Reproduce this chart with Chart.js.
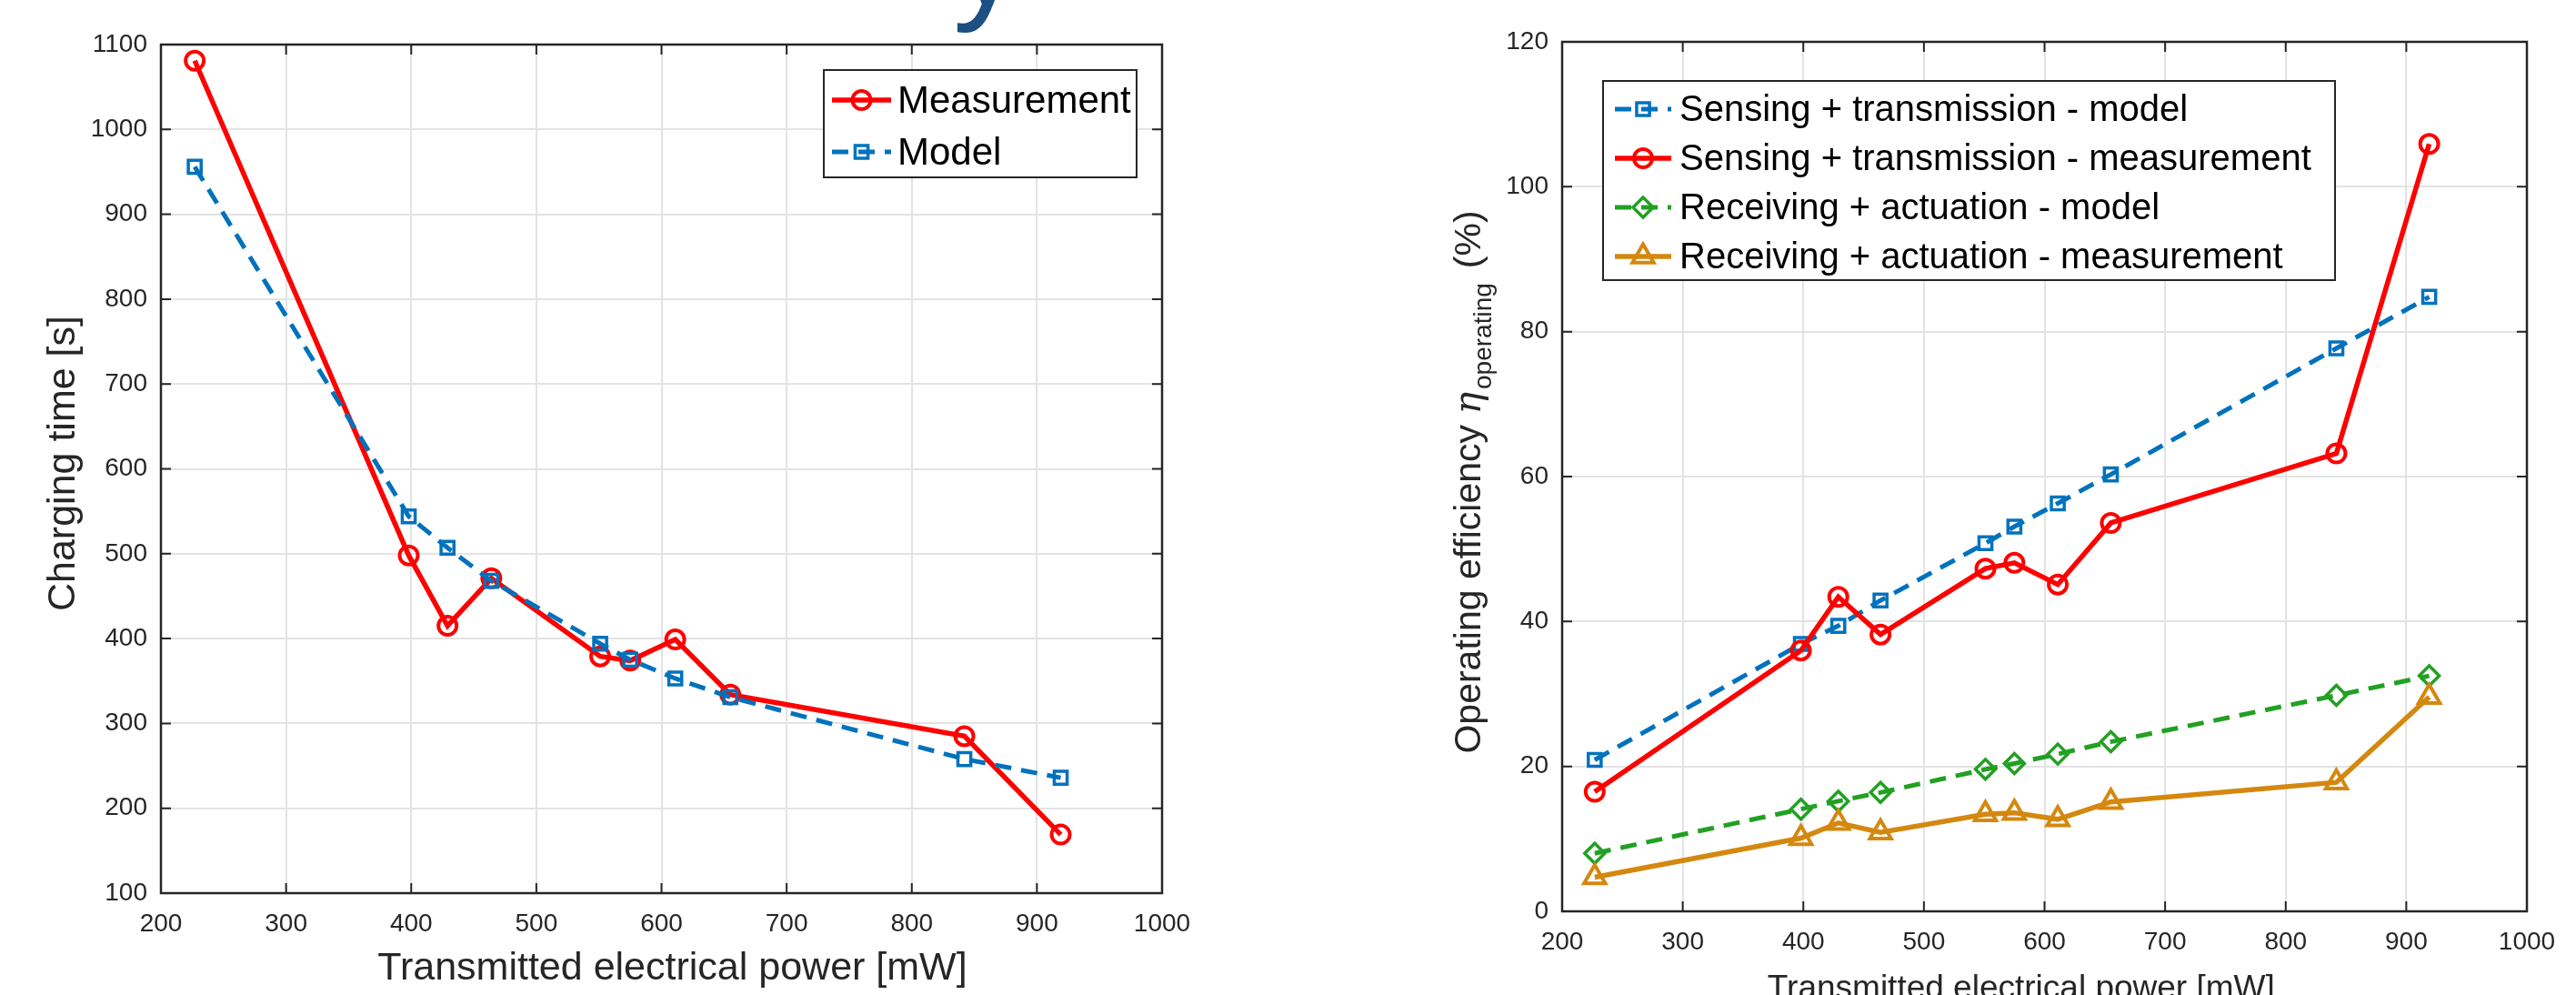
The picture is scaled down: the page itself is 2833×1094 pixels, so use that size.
<!DOCTYPE html>
<html>
<head>
<meta charset="utf-8">
<script src="https://cdn.jsdelivr.net/npm/chart.js@4.4.1/dist/chart.umd.min.js"></script>
<style>
  html, body { margin: 0; padding: 0; background: #fff; overflow: hidden; width: 2833px; height: 1094px; }
  #left { position: absolute; left: 0; top: 0; }
  #right { position: absolute; left: 1400px; top: 0; }
  #cut { position: absolute; left: 1048px; top: -122px; font: 150px "Liberation Sans"; line-height: 150px; color: #1c4f82; }
</style>
</head>
<body>
<div id="cut">y</div>
<canvas id="left" width="1400" height="1094"></canvas>
<canvas id="right" width="1433" height="1130"></canvas>
<script>
// transmitted electrical power, same points in both plots (mW)
const powerMW = [227, 398, 429, 464, 551, 575, 611, 655, 842, 919];

// left plot - charging time (s)
const chargeMeasured = [1081, 498, 415, 471, 379, 374, 399, 334, 285, 169];
const chargeModel    = [956, 544, 507, 468, 394, 375, 353, 331, 258, 236];

// right plot - operating efficiency (%)
const senseModel    = [20.9, 36.9, 39.4, 42.9, 50.8, 53.1, 56.3, 60.3, 77.7, 84.8];
const senseMeasured = [16.5, 36.0, 43.4, 38.2, 47.3, 48.1, 45.1, 53.6, 63.2, 105.9];
const recvModel     = [8.0, 14.1, 15.2, 16.4, 19.6, 20.4, 21.7, 23.4, 29.8, 32.5];
const recvMeasured  = [4.7, 10.1, 12.2, 10.9, 13.4, 13.6, 12.7, 15.1, 17.8, 29.6];

const FONT = '"Liberation Sans", Arial, sans-serif';
const AX = '#262626';
const NB = '\u00A0';
Chart.defaults.font.family = FONT;
Chart.defaults.color = AX;

const pts = ys => ys.map((y, i) => ({ x: powerMW[i], y: y }));

function marker(ctx, style, x, y, r, bw, color) {
  ctx.save();
  ctx.strokeStyle = color;
  ctx.lineWidth = bw;
  ctx.setLineDash([]);
  ctx.beginPath();
  if (style === 'circle') {
    ctx.arc(x, y, r, 0, 2 * Math.PI);
  } else if (style === 'rect') {
    const s = r * Math.SQRT1_2;
    ctx.rect(x - s, y - s, 2 * s, 2 * s);
  } else if (style === 'rectRot') {
    ctx.moveTo(x, y - r); ctx.lineTo(x + r, y); ctx.lineTo(x, y + r); ctx.lineTo(x - r, y); ctx.closePath();
  } else if (style === 'triangle') {
    let a = 0;
    ctx.moveTo(x + Math.sin(a) * r, y - Math.cos(a) * r);
    a += 2 * Math.PI / 3; ctx.lineTo(x + Math.sin(a) * r, y - Math.cos(a) * r);
    a += 2 * Math.PI / 3; ctx.lineTo(x + Math.sin(a) * r, y - Math.cos(a) * r);
    ctx.closePath();
  }
  ctx.stroke();
  ctx.restore();
}

// frame round the plot + inward ticks on all four sides (matlab look)
const matlabBox = {
  id: 'matlabBox',
  afterDatasetsDraw(chart) {
    const { ctx, chartArea: a, scales: { x, y } } = chart;
    const tl = 11;
    ctx.save();
    ctx.strokeStyle = AX;
    ctx.lineWidth = 2;
    ctx.beginPath();
    x.ticks.forEach(t => {
      const px = x.getPixelForValue(t.value);
      ctx.moveTo(px, a.bottom); ctx.lineTo(px, a.bottom - tl);
      ctx.moveTo(px, a.top); ctx.lineTo(px, a.top + tl);
    });
    y.ticks.forEach(t => {
      const py = y.getPixelForValue(t.value);
      ctx.moveTo(a.left, py); ctx.lineTo(a.left + tl, py);
      ctx.moveTo(a.right, py); ctx.lineTo(a.right - tl, py);
    });
    ctx.stroke();
    ctx.lineWidth = 2.5;
    ctx.strokeRect(a.left, a.top, a.right - a.left, a.bottom - a.top);
    ctx.restore();
  }
};

// legend box inside the plot
const boxLegend = {
  id: 'boxLegend',
  afterDraw(chart, args, o) {
    const { ctx, chartArea: a } = chart;
    const left = o.side === 'right' ? a.right - o.dx - o.w : a.left + o.dx;
    const top = a.top + o.dy;
    ctx.save();
    ctx.fillStyle = '#fff';
    ctx.fillRect(left, top, o.w, o.h);
    ctx.strokeStyle = AX;
    ctx.lineWidth = 2;
    ctx.strokeRect(left, top, o.w, o.h);
    ctx.font = o.fontSize + 'px ' + FONT;
    ctx.textBaseline = 'middle';
    chart.data.datasets.forEach((ds, i) => {
      const cy = top + o.row0 + i * o.rowStep;
      const x0 = left + o.sampleX, x1 = x0 + o.sampleLen;
      ctx.strokeStyle = ds.borderColor;
      ctx.lineWidth = ds.borderWidth;
      ctx.setLineDash(ds.borderDash || []);
      ctx.beginPath(); ctx.moveTo(x0, cy); ctx.lineTo(x1, cy); ctx.stroke();
      ctx.setLineDash([]);
      marker(ctx, ds.pointStyle, (x0 + x1) / 2, cy, ds.pointRadius, ds.pointBorderWidth, ds.borderColor);
      ctx.fillStyle = '#000';
      ctx.fillText(ds.label, left + o.textX, cy + 2);
    });
    ctx.restore();
  }
};

// y title with subscript for the right plot
const etaTitle = {
  id: 'etaTitle',
  afterDraw(chart) {
    const { ctx, chartArea: a } = chart;
    const bx = a.left - 90;
    const cy = (a.top + a.bottom) / 2 + 6;
    const main = '41px ' + FONT, eta = 'italic 41px "DejaVu Serif", serif', sub = '28px ' + FONT;
    const s1 = 'Operating efficiency ', s2 = '\u03B7', s3 = 'operating', s4 = '(%)';
    ctx.save();
    ctx.fillStyle = AX;
    ctx.textBaseline = 'alphabetic';
    ctx.font = main; const w1 = ctx.measureText(s1).width, w4 = ctx.measureText(s4).width;
    ctx.font = eta; const w2 = ctx.measureText(s2).width;
    ctx.font = sub; const w3 = ctx.measureText(s3).width;
    const total = w1 + w2 + 3 + w3 + 16 + w4;
    ctx.translate(bx, cy);
    ctx.rotate(-Math.PI / 2);
    let x = -total / 2;
    ctx.font = main; ctx.fillText(s1, x, 0); x += w1;
    ctx.font = eta; ctx.fillText(s2, x, 0); x += w2 + 3;
    ctx.font = sub; ctx.fillText(s3, x, 12); x += w3 + 16;
    ctx.font = main; ctx.fillText(s4, x, 0);
    ctx.restore();
  }
};

const plain = v => String(v);

function xScale(h, titleText, titleSize, titlePadBottom) {
  return {
    type: 'linear', min: 200, max: 1000,
    ticks: { stepSize: 100, padding: 17, maxRotation: 0, autoSkip: false, font: { size: 28 }, color: AX, callback: plain },
    grid: { color: '#e3e3e3', lineWidth: 2, drawTicks: false },
    border: { display: false },
    title: { display: true, text: titleText, font: { size: titleSize }, color: AX,
             padding: { top: 0, bottom: titlePadBottom } },
    afterFit: s => { s.height = h; }
  };
}

function line(label, data, color, dash, style, r, bw, lw, order) {
  return {
    label: label, data: pts(data), borderColor: color, borderWidth: lw, borderDash: dash,
    pointStyle: style, pointRadius: r, pointBorderWidth: bw, pointBorderColor: color,
    pointBackgroundColor: 'rgba(0,0,0,0)', backgroundColor: color, fill: false, tension: 0, order: order
  };
}

const common = {
  responsive: false, animation: false, devicePixelRatio: 1,
  plugins: { legend: { display: false }, tooltip: { enabled: false } }
};

const DASH = [18, 11];
const X_TITLE = 'Transmitted electrical power [mW]';

new Chart(document.getElementById('left'), {
  type: 'line',
  data: {
    datasets: [
      line('Measurement', chargeMeasured, '#ff0000', [], 'circle', 10, 4, 5.5, 1),
      line('Model', chargeModel, '#0072bd', DASH, 'rect', 10, 3.5, 5, 0)
    ]
  },
  options: Object.assign({}, common, {
    layout: { padding: { top: 49, right: 122, bottom: 0, left: 0 } },
    scales: {
      x: xScale(112, NB + NB + X_TITLE, 43, 3),
      y: {
        type: 'linear', min: 100, max: 1100,
        ticks: { stepSize: 100, padding: 15, font: { size: 28 }, color: AX, callback: plain },
        grid: { color: '#e3e3e3', lineWidth: 2, drawTicks: false },
        border: { display: false },
        title: { display: true, text: NB + 'Charging time [s]', font: { size: 43 }, color: AX, padding: { top: 44, bottom: 0 } },
        afterFit: s => { s.width = 177; }
      }
    },
    plugins: Object.assign({}, common.plugins, {
      boxLegend: { side: 'right', dx: 28, dy: 28, w: 344, h: 118, row0: 33, rowStep: 57, sampleX: 9, sampleLen: 65, textX: 81, fontSize: 42 }
    })
  }),
  plugins: [matlabBox, boxLegend]
});

new Chart(document.getElementById('right'), {
  type: 'line',
  data: {
    datasets: [
      line('Sensing + transmission - model', senseModel, '#0072bd', DASH, 'rect', 10, 3.5, 5, 3),
      line('Sensing + transmission - measurement', senseMeasured, '#ff0000', [], 'circle', 10, 4, 5.5, 2),
      line('Receiving + actuation - model', recvModel, '#22a022', DASH, 'rectRot', 11, 3.5, 5, 1),
      line('Receiving + actuation - measurement', recvMeasured, '#d4880f', [], 'triangle', 13.5, 4, 5.5, 0)
    ]
  },
  options: Object.assign({}, common, {
    layout: { padding: { top: 46, right: 54, bottom: 0, left: 0 } },
    scales: {
      x: xScale(128, X_TITLE + NB.repeat(5), 37, 20),
      y: {
        type: 'linear', min: 0, max: 120,
        ticks: { stepSize: 20, padding: 15, font: { size: 28 }, color: AX, callback: plain },
        grid: { color: '#e3e3e3', lineWidth: 2, drawTicks: false },
        border: { display: false },
        title: { display: false },
        afterFit: s => { s.width = 318; }
      }
    },
    plugins: Object.assign({}, common.plugins, {
      boxLegend: { side: 'left', dx: 45, dy: 43, w: 805, h: 219, row0: 31, rowStep: 54, sampleX: 13, sampleLen: 62, textX: 84, fontSize: 40 }
    })
  }),
  plugins: [matlabBox, boxLegend, etaTitle]
});
</script>
</body>
</html>
